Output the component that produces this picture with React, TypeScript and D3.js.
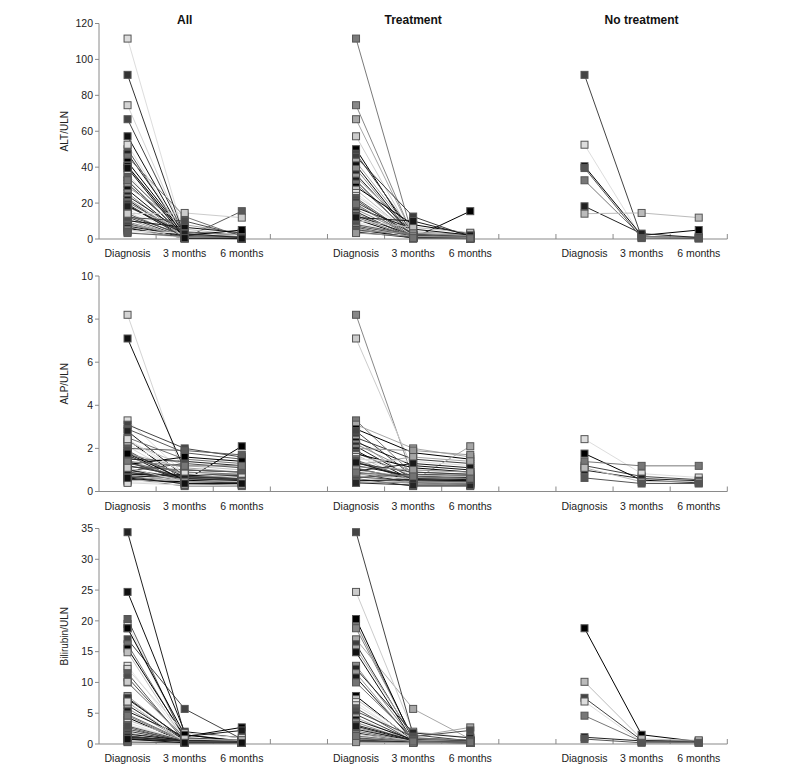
import React from "react";
import * as d3 from "d3";

// ---------- categories / labels ----------
const timepoints = ["Diagnosis", "3 months", "6 months"];
const panelTitles = ["All", "Treatment", "No treatment"];
const markerLabels = ["ALT/ULN", "ALP/ULN", "Bilirubin/ULN"];
const yMaxes = [120, 10, 35];
const yTickSteps = [20, 2, 5];

// ---------- Treatment group (42 patients) ----------
const treatALT0 = [111.6, 74.5, 66.7, 57.2, 50.0, 47.5, 45.7, 43.0, 41.0, 39.0, 36.0, 34.5, 32.5, 30.8, 29.0, 27.5, 25.6, 24.0, 22.8, 21.9, 20.5, 18.8, 17.5, 16.5, 15.2, 14.1, 13.0, 12.2, 11.0, 10.2, 9.5, 8.6, 8.0, 7.2, 6.5, 6.0, 5.2, 4.6, 3.9, 3.3, 12.0, 19.5];
const treatALT3 = [0.8, 1.5, 2.0, 1.2, 0.5, 3.0, 12.5, 2.5, 1.0, 0.6, 1.8, 4.0, 0.9, 2.2, 8.0, 1.4, 0.7, 3.5, 1.1, 0.4, 2.8, 0.9, 5.5, 1.6, 0.3, 1.3, 2.1, 0.8, 0.5, 6.5, 1.0, 0.6, 2.4, 1.7, 0.4, 0.5, 0.9, 3.2, 0.7, 1.5, 10.0, 0.5];
const treatALT6 = [0.5, 1.0, 0.8, 1.5, 15.5, 2.0, 1.2, 0.6, 0.9, 0.3, 1.1, 2.5, 0.7, 1.4, 3.0, 0.8, 0.5, 1.6, 0.9, 0.2, 1.3, 0.6, 2.2, 1.0, 0.4, 0.8, 1.5, 0.5, 0.3, 3.5, 0.7, 0.4, 1.1, 0.9, 0.2, 0.4, 0.6, 1.8, 0.5, 0.9, 2.0, 0.4];

const treatALP0 = [3.3, 8.2, 3.1, 7.1, 2.9, 2.8, 2.5, 2.4, 2.3, 2.2, 2.1, 2.0, 1.9, 1.8, 1.75, 1.7, 1.6, 1.5, 1.45, 1.4, 1.3, 1.25, 1.2, 1.1, 1.05, 1.0, 0.95, 0.9, 0.85, 0.8, 0.75, 0.7, 0.68, 0.65, 0.6, 0.55, 0.5, 0.45, 0.4, 1.15, 1.35, 0.88];
const treatALP3 = [0.8, 0.6, 2.0, 1.0, 1.8, 0.7, 1.5, 0.5, 1.2, 0.9, 0.6, 1.9, 0.5, 0.7, 1.1, 0.4, 0.8, 1.4, 0.6, 0.5, 0.9, 1.6, 0.7, 0.45, 0.55, 0.65, 1.3, 0.5, 0.4, 0.75, 0.6, 0.35, 0.5, 0.8, 0.25, 0.45, 0.55, 0.4, 0.3, 1.0, 0.6, 0.7];
const treatALP6 = [0.7, 0.5, 1.6, 0.9, 1.5, 0.6, 1.3, 2.1, 1.0, 0.8, 0.55, 1.7, 0.45, 0.6, 0.9, 0.4, 0.7, 1.2, 0.5, 0.5, 0.8, 1.4, 0.65, 0.4, 0.5, 0.6, 1.1, 0.45, 0.35, 0.7, 0.55, 0.3, 0.45, 0.75, 0.25, 0.4, 0.5, 0.35, 0.3, 0.9, 0.55, 0.6];

const treatBIL0 = [19.5, 18.8, 17.0, 24.7, 20.3, 34.4, 16.2, 15.5, 14.9, 12.7, 12.2, 11.5, 10.8, 10.0, 7.8, 7.3, 6.8, 6.3, 5.8, 5.3, 4.8, 4.3, 3.9, 3.5, 3.1, 2.7, 2.4, 2.1, 1.8, 1.6, 1.4, 1.2, 1.0, 0.9, 0.8, 0.7, 0.6, 0.5, 0.4, 0.3, 2.9, 1.3];
const treatBIL3 = [0.8, 1.0, 5.7, 2.0, 0.6, 1.5, 0.9, 1.2, 0.5, 0.7, 1.8, 0.4, 0.6, 1.0, 0.5, 0.8, 0.3, 0.6, 0.4, 1.2, 0.5, 0.3, 0.7, 0.4, 0.6, 0.3, 0.5, 0.4, 0.3, 0.6, 0.2, 0.5, 0.4, 0.3, 0.2, 0.4, 0.3, 0.2, 0.3, 0.2, 0.5, 0.4];
const treatBIL6 = [0.5, 0.6, 0.8, 1.0, 0.4, 0.5, 0.6, 2.7, 0.4, 0.5, 1.0, 0.3, 0.4, 0.6, 0.3, 0.5, 0.2, 0.4, 0.3, 2.2, 0.3, 0.2, 0.5, 0.3, 0.4, 0.2, 0.3, 0.3, 0.2, 0.4, 0.2, 0.3, 0.3, 0.2, 0.2, 0.3, 0.2, 0.2, 0.2, 0.2, 0.3, 0.3];

// ---------- No-treatment group (7 patients) ----------
const noTreatALT0 = [91.4, 52.5, 40.5, 32.7, 18.2, 14.1, 39.5];
const noTreatALT3 = [1.0, 0.8, 2.0, 1.5, 3.0, 14.5, 0.5];
const noTreatALT6 = [0.5, 0.4, 5.0, 1.0, 0.8, 11.9, 0.3];

const noTreatALP0 = [1.2, 2.43, 1.76, 1.39, 0.99, 1.1, 0.63];
const noTreatALP3 = [0.7, 0.83, 0.53, 1.19, 0.6, 0.45, 0.37];
const noTreatALP6 = [0.55, 0.65, 0.4, 1.19, 0.5, 0.45, 0.37];

const noTreatBIL0 = [7.5, 6.9, 18.8, 4.6, 1.1, 10.1, 0.8];
const noTreatBIL3 = [0.6, 0.3, 1.5, 0.4, 0.5, 0.8, 0.2];
const noTreatBIL6 = [0.3, 0.2, 0.4, 0.3, 0.5, 0.6, 0.2];

// ---------- grey shades for patients ----------
const greyCycle = ["#000000", "#d9d9d9", "#3d3d3d", "#8c8c8c", "#1a1a1a", "#bfbfbf", "#5c5c5c", "#a6a6a6", "#262626", "#737373", "#e6e6e6", "#4d4d4d", "#111111", "#999999"];
const treatTopColors = ["#7a7a7a", "#888888", "#a8a8a8", "#cccccc", "#000000", "#444444"];
const noTreatColors = ["#444444", "#dddddd", "#000000", "#777777", "#222222", "#bbbbbb", "#555555"];
const allTreatTopColors = ["#dddddd", "#d4d4d4", "#444444", "#111111", "#5a5a5a", "#222222"];
const allNoTreatColors = ["#333333", "#dddddd", "#000000", "#777777", "#222222", "#cccccc", "#111111"];

function colorList(top: string[], n: number, offset: number): string[] {
  return d3.range(n).map((i) => (i < top.length ? top[i] : greyCycle[(i * 5 + offset) % greyCycle.length]));
}

type Patient = { vals: number[]; color: string };

function build(a: number[], b: number[], c: number[], colors: string[]): Patient[] {
  return a.map((v, i) => ({ vals: [v, b[i], c[i]], color: colors[i] }));
}

const W = 787;
const H = 776;
const axisLeft = 99;
const axisRight = 727.3;
const rowTops = [23.5, 276, 528.5];
const plotH = 215.5;
const axisColor = "#8a8a8a";
const font = "'Liberation Sans', Arial, Helvetica, sans-serif";

export default function App() {
  const slots = d3.range(11).map(String);
  const x = d3.scaleBand<string>().domain(slots).range([axisLeft, axisRight]).padding(0);
  const bw = x.bandwidth();

  const treat = [
    { a: treatALT0, b: treatALT3, c: treatALT6 },
    { a: treatALP0, b: treatALP3, c: treatALP6 },
    { a: treatBIL0, b: treatBIL3, c: treatBIL6 },
  ];
  const noTreat = [
    { a: noTreatALT0, b: noTreatALT3, c: noTreatALT6 },
    { a: noTreatALP0, b: noTreatALP3, c: noTreatALP6 },
    { a: noTreatBIL0, b: noTreatBIL3, c: noTreatBIL6 },
  ];

  const nT = treatALT0.length;
  const treatColors = colorList(treatTopColors, nT, 0);
  const allColors = [...colorList(allTreatTopColors, nT, 7), ...allNoTreatColors];

  const sq = 7;
  const line = d3.line<[number, number]>();

  return (
    <svg width={W} height={H} style={{ position: "absolute", left: 0, top: 0, background: "#fff" }} fontFamily={font}>
      {panelTitles.map((t, p) => {
        const left = p === 0 ? axisLeft : x(String(p * 4 - 1))! + bw;
        const center = (left + x(String(p * 4 + 2))! + bw) / 2;
        return (
          <text key={t} x={center} y={24} textAnchor="middle" fontSize={12} fontWeight="bold" fill="#111">
            {t}
          </text>
        );
      })}
      {markerLabels.map((lab, r) => {
        const top = rowTops[r];
        const bottom = top + plotH;
        const y = d3.scaleLinear().domain([0, yMaxes[r]]).range([bottom, top]);
        const ticks = d3.range(0, yMaxes[r] + 1e-9, yTickSteps[r]);
        const t = build(treat[r].a, treat[r].b, treat[r].c, treatColors);
        const n = build(noTreat[r].a, noTreat[r].b, noTreat[r].c, noTreatColors);
        const all = build(
          [...treat[r].a, ...noTreat[r].a],
          [...treat[r].b, ...noTreat[r].b],
          [...treat[r].c, ...noTreat[r].c],
          allColors
        );
        const groups = [all, t, n];
        return (
          <g key={lab}>
            <line x1={axisLeft} x2={axisLeft} y1={bottom} y2={top} stroke={axisColor} strokeWidth={1} />
            {ticks.map((tv) => (
              <g key={tv}>
                <line x1={axisLeft - 4} x2={axisLeft} y1={y(tv)} y2={y(tv)} stroke={axisColor} />
                <text x={axisLeft - 6} y={y(tv)} dy="0.35em" textAnchor="end" fontSize={10.5} fill="#222">
                  {tv}
                </text>
              </g>
            ))}
            <text
              transform={`translate(64,${(top + bottom) / 2}) rotate(-90)`}
              textAnchor="middle"
              dy="0.35em"
              fontSize={10}
              fill="#222"
            >
              {lab}
            </text>
            <line x1={axisLeft} x2={axisRight} y1={bottom} y2={bottom} stroke={axisColor} strokeWidth={1.2} />
            {d3.range(1, 12).map((k) => {
              const tx = axisLeft + k * bw;
              return <line key={k} x1={tx} x2={tx} y1={bottom} y2={bottom - 5} stroke={axisColor} />;
            })}
            {[0, 1, 2].map((p) =>
              timepoints.map((tp, j) => (
                <text
                  key={p + tp}
                  x={x(String(p * 4 + j))! + bw / 2}
                  y={bottom + 18}
                  textAnchor="middle"
                  fontSize={10.5}
                  fill="#222"
                >
                  {tp}
                </text>
              ))
            )}
            {groups.map((g, p) => {
              const cx = (j: number) => x(String(p * 4 + j))! + bw / 2;
              return (
                <g key={p}>
                  {g.map((pt, i) => (
                    <path
                      key={"l" + i}
                      d={line(pt.vals.map((v, j) => [cx(j), y(v)] as [number, number])) || ""}
                      fill="none"
                      stroke={pt.color}
                      strokeWidth={1}
                    />
                  ))}
                  {g.map((pt, i) =>
                    pt.vals.map((v, j) => (
                      <rect
                        key={"r" + i + "-" + j}
                        x={cx(j) - sq / 2}
                        y={y(v) - sq / 2}
                        width={sq}
                        height={sq}
                        fill={pt.color}
                        stroke="#555"
                        strokeWidth={1}
                      />
                    ))
                  )}
                </g>
              );
            })}
          </g>
        );
      })}
    </svg>
  );
}
